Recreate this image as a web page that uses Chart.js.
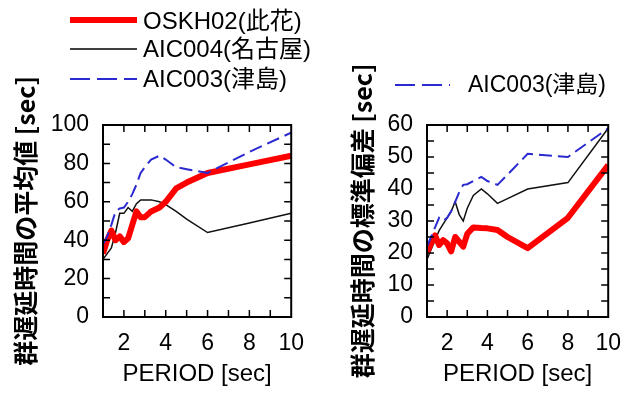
<!DOCTYPE html>
<html>
<head>
<meta charset="utf-8">
<script src="https://cdn.jsdelivr.net/npm/chart.js@4/dist/chart.umd.min.js"></script>
<style>
  body { margin: 0; background: #fff; }
  #wrap { position: relative; width: 634px; height: 394px; overflow: hidden; }
  canvas { position: absolute; top: 0; }
  .leg { position: absolute; font-family: "Liberation Sans", "Noto Sans CJK JP", sans-serif; font-size: 24px; color: #000; white-space: nowrap; line-height: 1; }
  svg { position: absolute; left: 0; top: 0; }
</style>
</head>
<body>
<div id="wrap">
  <canvas id="meanChart" width="317" height="394" style="left:0"></canvas>
  <canvas id="stdChart" width="317" height="394" style="left:317px"></canvas>
  <svg width="634" height="394">
    <line x1="70" y1="20" x2="137" y2="20" stroke="#ff0000" stroke-width="6"/>
    <line x1="70" y1="49" x2="137" y2="49" stroke="#000" stroke-width="1.3"/>
    <line x1="70" y1="79" x2="137" y2="79" stroke="#2a2ad0" stroke-width="2" stroke-dasharray="20 7"/>
    <line x1="395" y1="85" x2="450" y2="85" stroke="#2a2ad0" stroke-width="2" stroke-dasharray="20 7"/>
  </svg>
  <div class="leg" style="left:143px; top:9px">OSKH02(此花)</div>
  <div class="leg" style="left:143px; top:37px">AIC004(名古屋)</div>
  <div class="leg" style="left:143px; top:67px">AIC003(津島)</div>
  <div class="leg" style="left:468px; top:73px; font-size:23px">AIC003(津島)</div>
</div>
<script>
// periods [sec], shared by all stations
var periods = [1.0, 1.2, 1.4, 1.6, 1.8, 2.0, 2.2, 2.4, 2.6, 2.8, 3.0, 3.3, 3.7, 4.0, 4.5, 5.0, 6.0, 8.0, 10.0];

// group delay mean [sec]
var meanOSKH02 = [33, 40, 45, 40, 42, 39, 41, 48, 55, 52, 52, 55, 57, 60, 67, 70, 75, 79.5, 84];
var meanAIC004 = [30, 33, 36, 44, 54, 54, 57, 55, 59, 61, 61, 61, 60, 58.5, 55, 51, 44, 49, 54];
var meanAIC003 = [38, 42, 48, 55, 56.5, 57, 60, 64, 69, 75, 78, 82, 84, 82, 78, 77, 75, 86, 96];

// group delay standard deviation [sec]
var stdOSKH02 = [20, 23, 25.5, 22.5, 24, 23, 20.5, 25, 23.5, 22, 26, 28, 27.8, 27.7, 27.2, 25, 21.5, 31, 47.5];
var stdAIC004 = [18, 21, 24, 27, 29, 31, 33, 36, 32, 30, 34, 38, 40, 38.5, 35.5, 37, 40, 42, 59];
var stdAIC003 = [22, 25, 28, 31, 30, 31, 33, 36, 39, 41.3, 41.5, 42.5, 43.8, 42.5, 41.3, 44.5, 51, 50, 59];

var xTickLabels = [2, 4, 6, 8, 10];
var xMinorTicks = [2, 3, 4, 5, 6, 7, 8, 9];
var meanTickLabels = [0, 20, 40, 60, 80, 100];
var meanMinorTicks = [10, 20, 30, 40, 50, 60, 70, 80, 90];
var stdTickLabels = [0, 10, 20, 30, 40, 50, 60];
var stdMinorTicks = [5, 10, 15, 20, 25, 30, 35, 40, 45, 50, 55];

var RED = '#ff0000', BLACK = '#111111', BLUE = '#2a2ad0';

function pts(vals) {
    return periods.map((p, i) => ({x: p, y: vals[i]}));
}

// frame + inward ticks on all four sides
var framePlugin = {
    id: 'frame',
    afterDatasetsDraw(chart, args, opts) {
        var ctx = chart.ctx, a = chart.chartArea;
        var xs = chart.scales.x, ys = chart.scales.y;
        var len = 7;
        ctx.save();
        ctx.strokeStyle = '#000';
        ctx.lineWidth = 1.5;
        ctx.beginPath();
        xMinorTicks.forEach(v => {
            var px = xs.getPixelForValue(v);
            ctx.moveTo(px, a.bottom); ctx.lineTo(px, a.bottom - len);
            ctx.moveTo(px, a.top); ctx.lineTo(px, a.top + len);
        });
        opts.yMinor.forEach(v => {
            var py = ys.getPixelForValue(v);
            ctx.moveTo(a.left, py); ctx.lineTo(a.left + len, py);
            ctx.moveTo(a.right, py); ctx.lineTo(a.right - len, py);
        });
        ctx.stroke();
        ctx.lineWidth = 2;
        ctx.strokeRect(a.left, a.top, a.right - a.left, a.bottom - a.top);
        ctx.restore();
    }
};

function makeChart(id, series, yMax, yTicks, yMinor, yTitle, pad, yWidth) {
    return new Chart(document.getElementById(id), {
        type: 'line',
        data: {
            datasets: [
                {label: 'AIC003', data: pts(series[2]), borderColor: BLUE, borderWidth: 2, borderDash: [13, 6], order: 0},
                {label: 'OSKH02', data: pts(series[0]), borderColor: RED, borderWidth: 6, borderJoinStyle: 'round', order: 1},
                {label: 'AIC004', data: pts(series[1]), borderColor: BLACK, borderWidth: 1.5, order: 2}
            ]
        },
        options: {
            responsive: false,
            animation: false,
            events: [],
            elements: {point: {radius: 0}, line: {tension: 0}},
            layout: {padding: pad},
            plugins: {legend: {display: false}, tooltip: {enabled: false}, frame: {yMinor: yMinor}},
            scales: {
                x: {
                    type: 'linear', min: 1, max: 10,
                    grid: {display: false, drawTicks: false},
                    border: {display: false},
                    afterBuildTicks: s => { s.ticks = xTickLabels.map(v => ({value: v})); },
                    afterFit: s => { s.height = 77; },
                    ticks: {padding: 13, color: '#000', font: {family: 'Liberation Sans', size: 23}, maxRotation: 0},
                    title: {display: true, text: 'PERIOD [sec]', color: '#000', padding: {top: 0, bottom: 5},
                            font: {family: 'Liberation Sans', size: 24}}
                },
                y: {
                    type: 'linear', min: 0, max: yMax,
                    grid: {display: false, drawTicks: false},
                    border: {display: false},
                    afterBuildTicks: s => { s.ticks = yTicks.map(v => ({value: v})); },
                    afterFit: s => { s.width = yWidth; },
                    ticks: {padding: 14, color: '#000', font: {family: 'Liberation Sans', size: 23}},
                    title: {display: true, text: yTitle, color: '#000', padding: {top: 10, bottom: 0},
                            font: {family: 'Noto Sans CJK JP', size: 25, weight: 'bold'}}
                }
            }
        },
        plugins: [framePlugin]
    });
}

makeChart('meanChart', [meanOSKH02, meanAIC004, meanAIC003], 100, meanTickLabels, meanMinorTicks,
    '群遅延時間の平均値 [sec]', {top: 125, right: 17, bottom: 0, left: 0}, 103);
makeChart('stdChart', [stdOSKH02, stdAIC004, stdAIC003], 60, stdTickLabels, stdMinorTicks,
    '群遅延時間の標準偏差 [sec]', {top: 125, right: 12, bottom: 0, left: 20}, 90);
</script>
</body>
</html>
